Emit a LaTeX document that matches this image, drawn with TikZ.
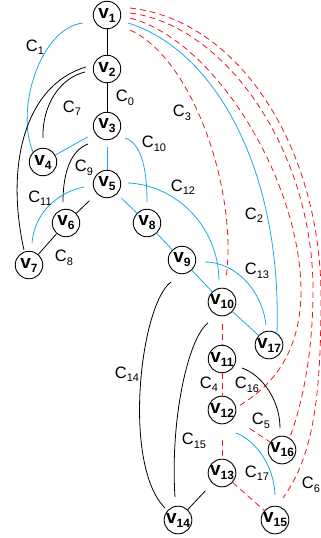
\documentclass[tikz,border=0pt]{standalone}
\usepackage{fontspec}
\setmainfont{Liberation Sans}
\usetikzlibrary{calc}
\definecolor{cyanc}{RGB}{25,170,230}
\definecolor{redc}{RGB}{240,20,20}
\newcommand{\vlab}[1]{{\fontsize{19}{19}\selectfont\bfseries v\raisebox{-4pt}{\fontsize{12}{12}\selectfont\bfseries #1}}}
\newcommand{\clab}[1]{{\fontsize{16.5}{16.5}\selectfont C\raisebox{-3.5pt}{\fontsize{11}{11}\selectfont #1}}}
\begin{document}
\begin{tikzpicture}[x=1pt,y=-1pt,
  vnode/.style={circle,draw,line width=0.9pt,minimum size=27.5pt,inner sep=0pt},
  blk/.style={draw=black,line width=0.8pt},
  cy/.style={draw=cyanc,line width=0.8pt},
  rd/.style={draw=redc,line width=0.8pt,dash pattern=on 6pt off 4pt},
  lab/.style={inner sep=0pt}]
\useasboundingbox (0,0) rectangle (321,538);

% nodes
\node[vnode] (v1) at (107,15) {\vlab{1}};
\node[vnode] (v2) at (107,69) {\vlab{2}};
\node[vnode] (v3) at (107,126) {\vlab{3}};
\node[vnode] (v4) at (43,162) {\vlab{4}};
\node[vnode] (v5) at (107,184) {\vlab{5}};
\node[vnode] (v6) at (66,223) {\vlab{6}};
\node[vnode] (v7) at (29,265) {\vlab{7}};
\node[vnode] (v8) at (147,223) {\vlab{8}};
\node[vnode] (v9) at (182,260) {\vlab{9}};
\node[vnode] (v10) at (222,302) {\vlab{10}};
\node[vnode] (v17) at (269,345) {\vlab{17}};
\node[vnode] (v11) at (222,359) {\vlab{11}};
\node[vnode] (v12) at (222,410) {\vlab{12}};
\node[vnode] (v16) at (282,450) {\vlab{16}};
\node[vnode] (v13) at (222,473) {\vlab{13}};
\node[vnode] (v14) at (178,520) {\vlab{14}};
\node[vnode] (v15) at (275,520) {\vlab{15}};

% straight edges
\draw[blk] (v1) -- (v2);
\draw[blk] (v2) -- (v3);
\draw[cy,shorten <=8pt] (v3) -- (v4);
\draw[cy,shorten <=7pt] (v3) -- (v5);
\draw[blk,shorten <=10pt] (v5) -- (v6);
\draw[blk] (v6) -- (v7);
\draw[cy,shorten <=6pt] (v5) -- (v8);
\draw[cy] (v8) -- (v9);
\draw[cy] (v9) -- (v10);
\draw[cy] (v10) -- (v17);
\draw[rd,shorten <=8pt] (v10) -- (v11);
\draw[rd] (v11) -- (v12);
\draw[rd,shorten <=16pt] (v12) -- (v13);
\draw[rd,shorten <=19pt] (v12) -- (v16);
\draw[rd] (v13) -- (v15);
\draw[blk,shorten <=10pt] (v13) -- (v14);

% curved edges
\draw[cy] ($(v1)+(-24,8)$) .. controls (40,28) and (15,110) .. ($(v4)+(-10,-10)$);
\draw[blk] ($(v2)+(-21,-2)$) .. controls (25,85) and (5,165) .. ($(v7)+(-5,-15)$);
\draw[blk] ($(v2)+(-22,3)$) .. controls (60,78) and (42,105) .. ($(v4)+(0,-24)$);
\draw[blk] ($(v3)+(-19,18)$) .. controls (72,150) and (63,170) .. ($(v6)+(-3,-21)$);
\draw[cy] ($(v5)+(-23,3)$) .. controls (60,192) and (35,210) .. ($(v7)+(3,-22)$);
\draw[cy] ($(v3)+(18,12)$) .. controls (140,143) and (147,165) .. ($(v8)+(0,-21)$);
\draw[cy] ($(v5)+(21,-1)$) .. controls (175,185) and (218,225) .. ($(v10)+(-3,-22)$);
\draw[cy] ($(v9)+(23,2)$) .. controls (235,262) and (262,290) .. ($(v17)+(-3,-20)$);
\draw[cy] ($(v1)+(21,8)$) .. controls (215,50) and (282,170) .. ($(v17)+(8,-12)$);
\draw[rd] ($(v1)+(23,15)$) .. controls (195,60) and (238,195) .. ($(v10)+(4,-24)$);
\draw[rd] ($(v1)+(23,3)$) .. controls (215,40) and (300,180) .. (301,290)
  .. controls (301,350) and (275,385) .. ($(v12)+(15,-3)$);
\draw[rd] ($(v1)+(23,-2)$) .. controls (225,25) and (313,150) .. (313,290)
  .. controls (313,360) and (300,410) .. ($(v16)+(8,-13)$);
\draw[rd] ($(v1)+(23,-7)$) .. controls (240,20) and (322,150) .. (321,300)
  .. controls (321,410) and (310,460) .. ($(v15)+(8,-22)$);
\draw[blk] ($(v9)+(-11,22)$) .. controls (140,305) and (122,465) .. ($(v14)+(-13,-12)$);
\draw[blk] ($(v10)+(-14,21)$) .. controls (188,338) and (170,420) .. ($(v14)+(-3,-23)$);
\draw[blk] ($(v11)+(20,9)$) .. controls (262,375) and (280,400) .. ($(v16)+(-2,-22)$);
\draw[cy] ($(v12)+(14,23)$) .. controls (255,440) and (274,465) .. ($(v15)+(0,-25)$);

% labels
\node[lab] (l1) at (35,47) {\clab{1}};
\node[lab] (l7) at (72,108) {\clab{7}};
\node[lab] (l0) at (125,98) {\clab{0}};
\node[lab] (l3) at (182,113) {\clab{3}};
\node[lab] (l10) at (154,144) {\clab{10}};
\node[lab] (l9) at (84,168) {\clab{9}};
\node[lab] (l11) at (40,198) {\clab{11}};
\node[lab] (l12) at (183,187) {\clab{12}};
\node[lab] (l2) at (254,215) {\clab{2}};
\node[lab] (l8) at (64,258) {\clab{8}};
\node[lab] (l13) at (257,271) {\clab{13}};
\node[lab] (l14) at (127,374) {\clab{14}};
\node[lab] (l4) at (209,384) {\clab{4}};
\node[lab] (l16) at (247,385) {\clab{16}};
\node[lab] (l5) at (261,421) {\clab{5}};
\node[lab] (l15) at (194,441) {\clab{15}};
\node[lab] (l17) at (257,473) {\clab{17}};
\node[lab] (l6) at (311,485) {\clab{6}};
\end{tikzpicture}
\end{document}
